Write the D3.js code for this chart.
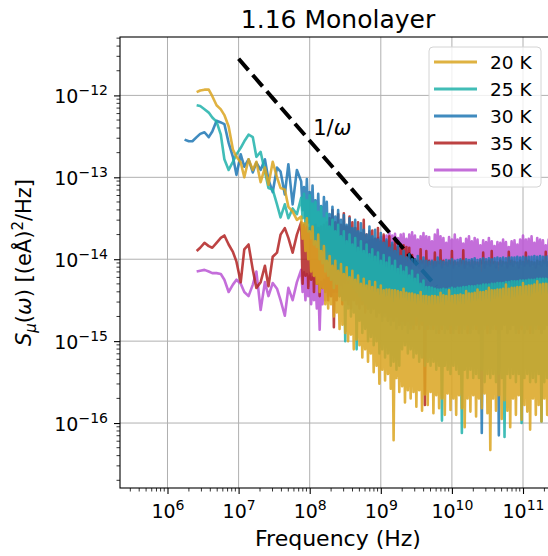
<!DOCTYPE html>
<html>
<head>
<meta charset="utf-8">
<script src="https://cdn.jsdelivr.net/npm/d3@7"></script>
<style>
body { margin: 0; background: #fff; }
text { font-family: "DejaVu Sans", sans-serif; fill: #000; }
</style>
</head>
<body>
<svg id="chart" width="548" height="556"></svg>
<script>

// log10 of frequency (Hz) for every sample
const logFreq = [
  6.24, 6.30, 6.35, 6.41, 6.46, 6.52, 6.58, 6.63, 6.69, 6.75, 6.80, 6.86, 6.92, 6.97, 7.03,
  7.08, 7.14, 7.20, 7.25, 7.31, 7.37, 7.42, 7.48, 7.54, 7.59, 7.65, 7.70, 7.76, 7.82,
  7.88, 7.90, 7.92, 7.94, 7.96, 7.98, 8.00, 8.02, 8.04, 8.06,
  8.08, 8.10, 8.12, 8.14, 8.16, 8.18, 8.20, 8.22, 8.24, 8.26,
  8.28, 8.30, 8.32, 8.34, 8.36, 8.38, 8.40, 8.42, 8.44, 8.46,
  8.48, 8.50, 8.52, 8.54, 8.56, 8.58, 8.60, 8.62, 8.64, 8.66,
  8.68, 8.70, 8.72, 8.74, 8.76, 8.78, 8.80, 8.82, 8.84, 8.86,
  8.88, 8.90, 8.92, 8.94, 8.96, 8.98, 9.00, 9.02, 9.04, 9.06,
  9.08, 9.10, 9.12, 9.14, 9.16, 9.18, 9.20, 9.22, 9.24, 9.26,
  9.28, 9.30, 9.32, 9.34, 9.36, 9.38, 9.40, 9.42, 9.44, 9.46,
  9.48, 9.50, 9.52, 9.54, 9.56, 9.58, 9.60, 9.62, 9.64, 9.66,
  9.68, 9.70, 9.72, 9.74, 9.76, 9.78, 9.80, 9.82, 9.84, 9.86,
  9.88, 9.90, 9.92, 9.94, 9.96, 9.98, 10.00, 10.02, 10.04, 10.06,
  10.08, 10.10, 10.12, 10.14, 10.16, 10.18, 10.20, 10.22, 10.24, 10.26,
  10.28, 10.30, 10.32, 10.34, 10.36, 10.38, 10.40, 10.42, 10.44, 10.46,
  10.48, 10.50, 10.52, 10.54, 10.56, 10.58, 10.60, 10.62, 10.64, 10.66,
  10.68, 10.70, 10.72, 10.74, 10.76, 10.78, 10.80, 10.82, 10.84, 10.86,
  10.88, 10.90, 10.92, 10.94, 10.96, 10.98, 11.00, 11.02, 11.04, 11.06,
  11.08, 11.10, 11.12, 11.14, 11.16, 11.18, 11.20, 11.22, 11.24, 11.26,
  11.28, 11.30, 11.32, 11.34, 11.36, 11.38, 11.40
];

// log10 of S_mu (e.A)^2/Hz, one list per temperature
const s20 = [
  null, null, null, -11.96, -11.94, -11.93, -11.93, -12.01, -12.12, -12.17, -12.24, -12.38, -12.66,
  -12.75, -12.82, -13.00, -12.78, -12.91, -12.81, -13.06, -12.88, -13.09, -12.81, -13.00, -13.13,
  -13.15, -13.36, -13.42, -13.52,
  -13.48, -13.75, -13.56, -13.90, -13.50, -14.00, -13.66, -14.15, -13.60, -14.20,
  -13.78, -14.30, -13.70, -14.40, -13.90, -14.35, -13.84, -14.55, -14.02, -14.60,
  -13.96, -14.55, -14.08, -14.70, -14.02, -14.65, -14.14, -14.85, -14.06, -14.80,
  -14.18, -14.90, -14.10, -15.00, -14.22, -14.92, -14.14, -15.10, -14.25, -14.98,
  -14.20, -15.05, -14.30, -15.20, -14.24, -15.10, -14.32, -15.25, -14.27, -15.15,
  -14.34, -15.38, -14.28, -15.30, -14.37, -15.52, -14.32, -15.35, -14.38, -15.48,
  -14.37, -15.40, -14.37, -15.58, -14.38, -16.21, -14.38, -15.45, -14.39, -15.62,
  -14.40, -15.55, -14.36, -15.75, -14.41, -15.60, -14.42, -15.70, -14.42, -15.62,
  -14.43, -15.80, -14.44, -15.60, -14.40, -15.85, -14.45, -15.65, -14.45, -15.78,
  -14.46, -15.62, -14.45, -15.88, -14.45, -15.66, -14.46, -15.82, -14.41, -15.70,
  -14.44, -15.90, -14.45, -15.64, -14.38, -15.84, -14.45, -15.70, -14.44, -15.90,
  -14.44, -15.66, -14.43, -15.82, -14.44, -16.05, -14.39, -15.70, -14.42, -15.86,
  -14.42, -15.66, -14.41, -15.92, -14.37, -15.70, -14.40, -15.82, -14.40, -15.64,
  -14.39, -15.88, -14.35, -16.33, -14.38, -15.70, -14.38, -15.85, -14.37, -15.66,
  -14.37, -15.95, -14.36, -15.72, -14.31, -15.85, -14.36, -16.05, -14.35, -15.70,
  -14.35, -15.90, -14.34, -15.66, -14.34, -15.96, -14.29, -15.78, -14.33, -15.86,
  -14.32, -16.08, -14.32, -15.70, -14.31, -15.90, -14.27, -15.78, -14.31, -15.98,
  -14.30, -15.70, -14.30, -15.90, -14.30, -15.74, -14.29
];
const s25 = [
  null, null, null, -12.12, -12.13, -12.17, -12.21, -12.27, -12.32, -12.48, -12.78, -12.91, -12.81,
  -12.72, -12.64, -12.56, -12.48, -12.51, -12.75, -12.69, -12.93, -13.13, -13.15, -13.33, -13.49,
  -13.33, -13.50, -13.38, -13.45,
  -13.25, -13.50, -13.20, -13.58, -13.28, -13.66, -13.22, -13.74, -13.32, -13.82,
  -13.30, -13.85, -13.42, -14.00, -13.36, -14.05, -13.50, -14.15, -13.44, -14.20,
  -13.60, -14.25, -13.52, -14.35, -13.66, -14.30, -13.58, -14.45, -13.72, -14.50,
  -13.66, -15.00, -13.78, -14.60, -13.70, -14.70, -13.82, -14.65, -13.74, -15.10,
  -13.86, -14.75, -13.78, -14.90, -13.90, -14.85, -13.82, -15.00, -13.94, -14.95,
  -13.88, -15.05, -13.97, -15.00, -13.92, -15.15, -14.02, -15.10, -13.95, -15.20,
  -14.04, -15.15, -13.98, -15.30, -14.08, -15.25, -14.02, -15.35, -14.12, -15.30,
  -14.08, -15.10, -14.15, -15.05, -14.10, -15.15, -14.20, -15.10, -14.14, -15.20,
  -14.24, -15.15, -14.19, -15.25, -14.30, -15.20, -14.26, -15.30, -14.34, -15.25,
  -14.34, -15.30, -14.35, -15.25, -14.36, -15.35, -14.37, -15.30, -14.37, -15.97,
  -14.36, -15.30, -14.37, -15.35, -14.36, -15.40, -14.35, -15.30, -14.36, -15.35,
  -14.35, -15.40, -14.35, -16.12, -14.34, -15.35, -14.34, -15.45, -14.33, -15.35,
  -14.33, -15.45, -14.33, -15.40, -14.32, -15.45, -14.32, -15.35, -14.31, -15.50,
  -14.31, -15.40, -14.31, -15.45, -14.30, -15.40, -14.30, -15.50, -14.29, -15.40,
  -14.29, -15.45, -14.29, -16.17, -14.28, -15.40, -14.28, -15.45, -14.27, -15.40,
  -14.27, -15.50, -14.27, -15.40, -14.26, -16.00, -14.26, -15.45, -14.26, -15.40,
  -14.25, -15.50, -14.25, -15.45, -14.25, -15.50, -14.24, -15.40, -14.24, -15.98,
  -14.24, -15.50, -14.24, -15.45, -14.24, -15.50, -14.24
];
const s30 = [
  -12.54, -12.56, -12.56, -12.51, -12.47, -12.45, -12.51, -12.44, -12.31, -12.33, -12.35, -12.58,
  -12.75, -12.97, -12.72, -12.87, -12.78, -12.94, -12.82, -12.91, -12.78, -13.03, -13.18, -12.88,
  -12.93, -13.21, -12.84, -13.33, -12.91,
  -13.05, -13.40, -13.12, -13.50, -13.02, -13.55, -13.18, -13.60, -13.10, -13.65,
  -13.28, -13.70, -13.20, -13.75, -13.35, -13.80, -13.24, -13.85, -13.30, -13.90,
  -13.45, -13.95, -13.36, -14.00, -13.48, -14.05, -13.40, -14.10, -13.52, -14.15,
  -13.46, -14.20, -13.58, -14.25, -13.50, -14.30, -13.62, -14.35, -13.52, -14.40,
  -13.66, -14.45, -13.56, -14.50, -13.64, -14.55, -13.70, -14.60, -13.60, -14.65,
  -13.72, -14.60, -13.64, -14.70, -13.76, -14.65, -13.68, -14.75, -13.80, -14.70,
  -13.76, -14.75, -13.86, -14.80, -13.80, -14.75, -13.90, -14.85, -13.84, -14.80,
  -13.96, -14.85, -13.90, -14.80, -13.98, -14.90, -13.94, -14.85, -14.00, -14.80,
  -14.00, -14.70, -13.96, -14.80, -14.02, -14.75, -13.98, -14.85, -14.02, -14.80,
  -14.03, -14.85, -14.02, -14.80, -14.03, -14.90, -13.98, -14.85, -14.02, -14.80,
  -14.03, -14.90, -14.01, -14.85, -14.02, -14.80, -14.00, -14.90, -14.02, -14.85,
  -14.01, -14.80, -14.00, -14.90, -14.02, -14.85, -14.00, -14.80, -14.01, -14.90,
  -14.00, -14.85, -13.99, -14.80, -14.01, -14.90, -14.00, -16.12, -13.99, -14.85,
  -14.00, -14.80, -13.99, -14.90, -14.00, -14.85, -13.99, -14.80, -13.98, -16.15,
  -13.99, -14.85, -13.98, -14.80, -13.99, -14.90, -13.98, -14.85, -13.98, -14.80,
  -13.98, -14.90, -13.97, -14.85, -13.98, -14.80, -13.97, -14.90, -13.98, -14.85,
  -13.97, -14.80, -13.97, -14.90, -13.96, -14.85, -13.97, -14.80, -13.96, -14.90,
  -13.97, -14.85, -13.97, -14.80, -13.96, -14.90, -13.97
];
const s35 = [
  null, null, null, -13.90, -13.86, -13.80, -13.84, -13.86, -13.80, -13.74, -13.71, -13.82, -13.91,
  -14.03, -14.28, -13.88, -13.82, -14.13, -14.35, -14.28, -14.08, -14.33, -13.97, -13.92, -13.70,
  -13.62, -13.74, -13.92, -13.70,
  -13.55, -14.30, -13.58, -14.20, -13.60, -14.35, -13.62, -14.25, -13.60, -14.40,
  -13.58, -14.30, -13.62, -14.45, -13.60, -14.35, -13.58, -14.40, -13.55, -14.50,
  -13.50, -14.45, -13.40, -14.83, -13.55, -14.50, -13.45, -14.45, -13.58, -14.55,
  -13.44, -14.50, -13.60, -14.55, -13.48, -14.60, -13.55, -14.50, -13.62, -14.55,
  -13.55, -14.60, -13.68, -14.55, -13.52, -14.65, -13.70, -14.60, -13.66, -14.65,
  -13.65, -14.60, -13.75, -14.70, -13.62, -14.65, -13.78, -14.70, -13.70, -14.65,
  -13.78, -14.75, -13.72, -14.70, -13.82, -14.75, -13.76, -14.70, -13.85, -14.80,
  -13.82, -14.75, -13.83, -14.80, -13.85, -14.75, -13.86, -14.80, -13.95, -14.85,
  -14.00, -14.80, -14.02, -14.85, -13.88, -14.80, -14.02, -15.78, -13.90, -14.85,
  -14.02, -14.80, -14.03, -14.85, -13.92, -14.80, -14.03, -14.90, -13.89, -14.85,
  -14.02, -14.80, -14.04, -14.85, -14.02, -14.90, -13.90, -14.85, -14.03, -14.80,
  -14.04, -14.90, -14.02, -14.85, -13.89, -14.80, -14.03, -14.90, -14.04, -14.85,
  -14.02, -14.80, -14.03, -14.85, -14.04, -14.90, -14.02, -14.85, -13.92, -14.80,
  -14.03, -14.90, -14.02, -14.85, -13.90, -14.80, -14.03, -14.85, -14.04, -14.90,
  -14.02, -14.85, -14.03, -14.80, -14.04, -14.90, -13.91, -14.85, -14.02, -14.80,
  -14.03, -14.85, -14.04, -14.90, -14.02, -14.85, -14.03, -14.80, -13.92, -14.85,
  -14.02, -14.90, -14.03, -14.85, -14.04, -14.80, -14.02, -14.85, -14.03, -14.90,
  -14.02, -14.85, -13.91, -14.80, -14.03, -14.85, -14.02
];
const s50 = [
  null, null, null, -14.15, -14.14, -14.13, -14.15, -14.17, -14.17, -14.18, -14.25, -14.40, -14.31,
  -14.25, -14.30, -14.40, -14.45, -14.31, -14.15, -14.62, -14.28, -14.45, -14.29, -14.36, -14.50,
  -14.69, -14.35, -14.50, -14.28,
  -14.13, -14.40, -14.16, -14.50, -14.18, -14.45, -14.20, -14.55, -14.22, -14.50,
  -14.24, -14.60, -14.26, -14.86, -14.28, -14.55, -14.25, -14.50, -14.20, -14.45,
  -14.12, -14.45, -14.06, -14.40, -14.02, -14.40, -13.98, -14.35, -13.95, -14.35,
  -13.93, -14.30, -13.91, -14.30, -13.89, -14.28, -13.87, -14.25, -13.85, -14.25,
  -13.84, -14.22, -13.82, -14.20, -13.80, -14.20, -13.79, -14.18, -13.77, -14.15,
  -13.76, -14.15, -13.75, -14.12, -13.74, -14.12, -13.73, -14.10, -13.72, -14.10,
  -13.71, -14.08, -13.66, -14.10, -13.71, -14.08, -13.69, -14.10, -13.74, -14.08,
  -13.70, -14.10, -13.69, -14.06, -13.75, -14.08, -13.70, -14.10, -13.67, -14.06,
  -13.71, -14.08, -13.76, -14.10, -13.72, -14.05, -13.68, -14.10, -13.72, -14.08,
  -13.73, -14.06, -13.78, -14.10, -13.70, -14.08, -13.64, -14.05, -13.72, -14.10,
  -13.74, -14.06, -13.80, -14.08, -13.73, -14.05, -13.76, -14.10, -13.70, -14.06,
  -13.76, -14.08, -13.74, -14.05, -13.81, -14.10, -13.75, -14.06, -13.72, -14.08,
  -13.78, -14.10, -13.74, -14.06, -13.76, -14.08, -13.83, -14.05, -13.77, -14.10,
  -13.79, -14.06, -13.74, -14.08, -13.78, -14.05, -13.84, -14.10, -13.79, -14.06,
  -13.80, -14.08, -13.76, -14.05, -13.79, -14.10, -13.85, -14.06, -13.78, -14.08,
  -13.77, -14.05, -13.82, -14.10, -13.76, -14.06, -13.71, -14.08, -13.76, -14.05,
  -13.75, -14.08, -13.72, -14.06, -13.80, -14.10, -13.74, -14.06, -13.76, -14.08,
  -13.77, -14.05, -13.83, -14.08, -13.76, -14.06, -13.77
];

const labels = ["20 K", "25 K", "30 K", "35 K", "50 K"];
const colors = ["#DAA520", "#20B2AA", "#1f77b4", "#B22222", "#BA55D3"];
const values = [s20, s25, s30, s35, s50];

// 1/omega guide line
const guideFreq = [1e7, 6e9];
const guideVal = [2.8e-12, 4.67e-15];

const xMajorExp = [6, 7, 8, 9, 10, 11];
const yMajorExp = [-16, -15, -14, -13, -12];

const margin = {left: 120, top: 37};
const plotW = 436, plotH = 451;

const svg = d3.select("#chart");

const x = d3.scaleLog()
            .domain([Math.pow(10, 5.332), Math.pow(10, 11.464)])
            .range([margin.left, margin.left + plotW]);
const y = d3.scaleLog()
            .domain([Math.pow(10, -16.793), Math.pow(10, -11.287)])
            .range([margin.top + plotH, margin.top]);

svg.append("defs").append("clipPath").attr("id", "plotClip")
   .append("rect")
   .attr("x", margin.left).attr("y", margin.top)
   .attr("width", plotW).attr("height", plotH);

// grid
let grid = svg.append("g").attr("stroke", "#b0b0b0").attr("stroke-width", 1);
grid.selectAll(".vg").data(xMajorExp).join("line")
    .attr("x1", d => x(Math.pow(10, d))).attr("x2", d => x(Math.pow(10, d)))
    .attr("y1", margin.top).attr("y2", margin.top + plotH);
grid.selectAll(".hg").data(yMajorExp).join("line")
    .attr("y1", d => y(Math.pow(10, d))).attr("y2", d => y(Math.pow(10, d)))
    .attr("x1", margin.left).attr("x2", margin.left + plotW);

function seriesData(vals) {
    return logFreq.map((lf, i) => ({f: Math.pow(10, lf), s: vals[i] == null ? null : Math.pow(10, vals[i])}));
}

const line = d3.line()
               .defined(d => d.s != null)
               .x(d => x(d.f))
               .y(d => y(d.s));

let plot = svg.append("g").attr("clip-path", "url(#plotClip)");

function drawSeries(i) {
    plot.append("path")
        .datum(seriesData(values[i]))
        .attr("d", line)
        .attr("fill", "none")
        .attr("stroke", colors[i])
        .attr("stroke-width", 2.6)
        .attr("stroke-linejoin", "round")
        .attr("opacity", 0.85);
}

// warmest first so the coldest ends up on top
drawSeries(4);
drawSeries(3);

plot.append("path")
    .datum(guideFreq.map((f, i) => ({f: f, s: guideVal[i]})))
    .attr("d", line)
    .attr("fill", "none")
    .attr("stroke", "#000")
    .attr("stroke-width", 4)
    .attr("stroke-dasharray", "15,6.5");

drawSeries(2);
drawSeries(1);
drawSeries(0);

// axes
function addPow(sel, e) {
    sel.append("tspan").text("10");
    sel.append("tspan").attr("dy", -8).attr("font-size", 14)
       .text(e < 0 ? "\u2212" + Math.abs(e) : e);
}

let xAxisG = svg.append("g")
                .attr("transform", `translate(0,${margin.top + plotH})`)
                .call(d3.axisBottom(x).tickValues(xMajorExp.map(e => Math.pow(10, e))).tickSize(6).tickFormat(""));
xAxisG.select(".domain").remove();
xAxisG.selectAll(".tick line").attr("stroke-width", 1.1);
xAxisG.selectAll(".tick").append("text")
      .attr("y", 30).attr("text-anchor", "middle").attr("font-size", 19)
      .each(function(d) { addPow(d3.select(this), Math.round(Math.log10(d))); });

let xMinor = x.ticks().filter(v => Math.abs(Math.log10(v) - Math.round(Math.log10(v))) > 1e-6);
svg.append("g").selectAll("line").data(xMinor).join("line")
   .attr("x1", d => x(d)).attr("x2", d => x(d))
   .attr("y1", margin.top + plotH).attr("y2", margin.top + plotH + 3.5)
   .attr("stroke", "#000").attr("stroke-width", 0.8);

let yAxisG = svg.append("g")
                .attr("transform", `translate(${margin.left},0)`)
                .call(d3.axisLeft(y).tickValues(yMajorExp.map(e => Math.pow(10, e))).tickSize(6).tickFormat(""));
yAxisG.select(".domain").remove();
yAxisG.selectAll(".tick line").attr("stroke-width", 1.1);
yAxisG.selectAll(".tick").append("text")
      .attr("x", -12).attr("y", 7).attr("text-anchor", "end").attr("font-size", 19)
      .each(function(d) { addPow(d3.select(this), Math.round(Math.log10(d))); });

let yMinor = y.ticks().filter(v => Math.abs(Math.log10(v) - Math.round(Math.log10(v))) > 1e-6);
svg.append("g").selectAll("line").data(yMinor).join("line")
   .attr("y1", d => y(d)).attr("y2", d => y(d))
   .attr("x1", margin.left).attr("x2", margin.left - 3.5)
   .attr("stroke", "#000").attr("stroke-width", 0.8);

// spines
svg.append("rect")
   .attr("x", margin.left).attr("y", margin.top)
   .attr("width", plotW).attr("height", plotH)
   .attr("fill", "none").attr("stroke", "#000").attr("stroke-width", 1.1);

// 1/omega label
let guideText = svg.append("text")
                   .attr("x", x(Math.pow(10, 8.05))).attr("y", y(Math.pow(10, -12.48)))
                   .attr("font-size", 21);
guideText.append("tspan").text("1/");
guideText.append("tspan").attr("font-style", "italic").text("\u03c9");

// titles
svg.append("text")
   .attr("x", margin.left + plotW / 2).attr("y", 28)
   .attr("text-anchor", "middle").attr("font-size", 25)
   .text("1.16 Monolayer");

svg.append("text")
   .attr("x", margin.left + plotW / 2).attr("y", 546)
   .attr("text-anchor", "middle").attr("font-size", 22)
   .text("Frequency (Hz)");

let yLab = svg.append("text")
              .attr("transform", `translate(31,${margin.top + plotH / 2}) rotate(-90)`)
              .attr("text-anchor", "middle").attr("font-size", 21);
yLab.append("tspan").attr("font-style", "italic").text("S");
yLab.append("tspan").attr("font-style", "italic").attr("font-size", 15).attr("dy", 5).text("\u03bc");
yLab.append("tspan").attr("dy", -5).text("(");
yLab.append("tspan").attr("font-style", "italic").text("\u03c9");
yLab.append("tspan").text(") [(e\u00c5)");
yLab.append("tspan").attr("font-size", 15).attr("dy", -8).text("2");
yLab.append("tspan").attr("dy", 8).text("/Hz]");

// legend
let legend = svg.append("g");
legend.append("rect")
      .attr("x", 429).attr("y", 47).attr("width", 112).attr("height", 140).attr("rx", 4)
      .attr("fill", "#fff").attr("fill-opacity", 0.8)
      .attr("stroke", "#d4d4d4").attr("stroke-width", 1);

let rows = legend.selectAll(".row").data(labels).join("g")
                 .attr("transform", (d, i) => `translate(0,${62 + i * 27})`);
rows.append("line")
    .attr("x1", 434).attr("x2", 477)
    .attr("stroke", (d, i) => colors[i]).attr("stroke-width", 3).attr("opacity", 0.85);
rows.append("text")
    .attr("x", 490).attr("y", 7).attr("font-size", 18.5)
    .text(d => d);

</script>
</body>
</html>
